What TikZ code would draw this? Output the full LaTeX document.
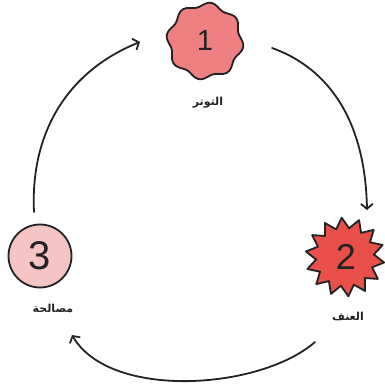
\documentclass[tikz,border=0pt]{standalone}
\usepackage{fontspec}
\setmainfont{Liberation Sans}
\newfontfamily\arabicfont[Script=Arabic]{DejaVu Sans}
\TeXXeTstate=1
\usetikzlibrary{arrows.meta}
\definecolor{inkc}{RGB}{34,34,34}
\definecolor{cone}{RGB}{239,128,129}
\definecolor{ctwo}{RGB}{233,80,76}
\definecolor{cthree}{RGB}{245,196,196}
\tikzset{
  shapeline/.style={draw=inkc, line width=1.8pt, line join=round},
  digit/.style={inner sep=0pt, text=inkc},
  lbl/.style={inner sep=1pt, text=inkc, font=\arabicfont\bfseries\fontsize{11}{13}\selectfont},
  flow/.style={draw=inkc, line width=1.8pt, line cap=round, -{Straight Barb[length=5pt,width=12pt,line width=1.8pt]}}
}
\begin{document}
\begin{tikzpicture}[x=1pt,y=-1pt]
\useasboundingbox (0,0) rectangle (384,390);
% node 1: wavy blob
\draw[shapeline, fill=cone] plot[smooth cycle, samples at={0,5,...,355}]
  ({205+(36.5+2.2*sin(8*\x+20))*cos(\x)}, {41+(36.5+2.2*sin(8*\x+20))*sin(\x)});
\node[digit, font=\fontsize{29}{29}\selectfont] (n1) at (205,41) {1};
% node 2: starburst
\draw[shapeline, fill=ctwo] plot[samples at={0,...,27}]
  ({345+ifthenelse(mod(\x,2)==0,39.5,29)*cos(\x*360/28+8)}, {257+ifthenelse(mod(\x,2)==0,39.5,29)*sin(\x*360/28+8)}) -- cycle;
\node[digit, font=\fontsize{36}{36}\selectfont] (n2) at (346,257) {2};
% node 3: circle
\draw[shapeline, fill=cthree] (40,256) circle (31.5);
\node[digit, font=\fontsize{40}{40}\selectfont] (n3) at (40,256) {3};
% labels
\node[lbl] (l1) at (208,103) {\beginR التوتر\endR};
\node[lbl] (l2) at (348,316) {\beginR العنف\endR};
\node[lbl] (l3) at (53,308) {\beginR مصالحة\endR};
% connector end points
\coordinate (a1s) at (34,212);
\coordinate (a1e) at (140,42);
\coordinate (a2s) at (272,48);
\coordinate (a2e) at (367,210);
\coordinate (a3s) at (315,342);
\coordinate (a3e) at (72,335);
\draw[flow] (a1s) .. controls (30,130) and (70,70) .. (a1e);
\draw[flow] (a2s) .. controls (320,65) and (365,110) .. (a2e);
\draw[flow] (a3s) .. controls (260,390) and (110,400) .. (a3e);
\end{tikzpicture}
\end{document}
